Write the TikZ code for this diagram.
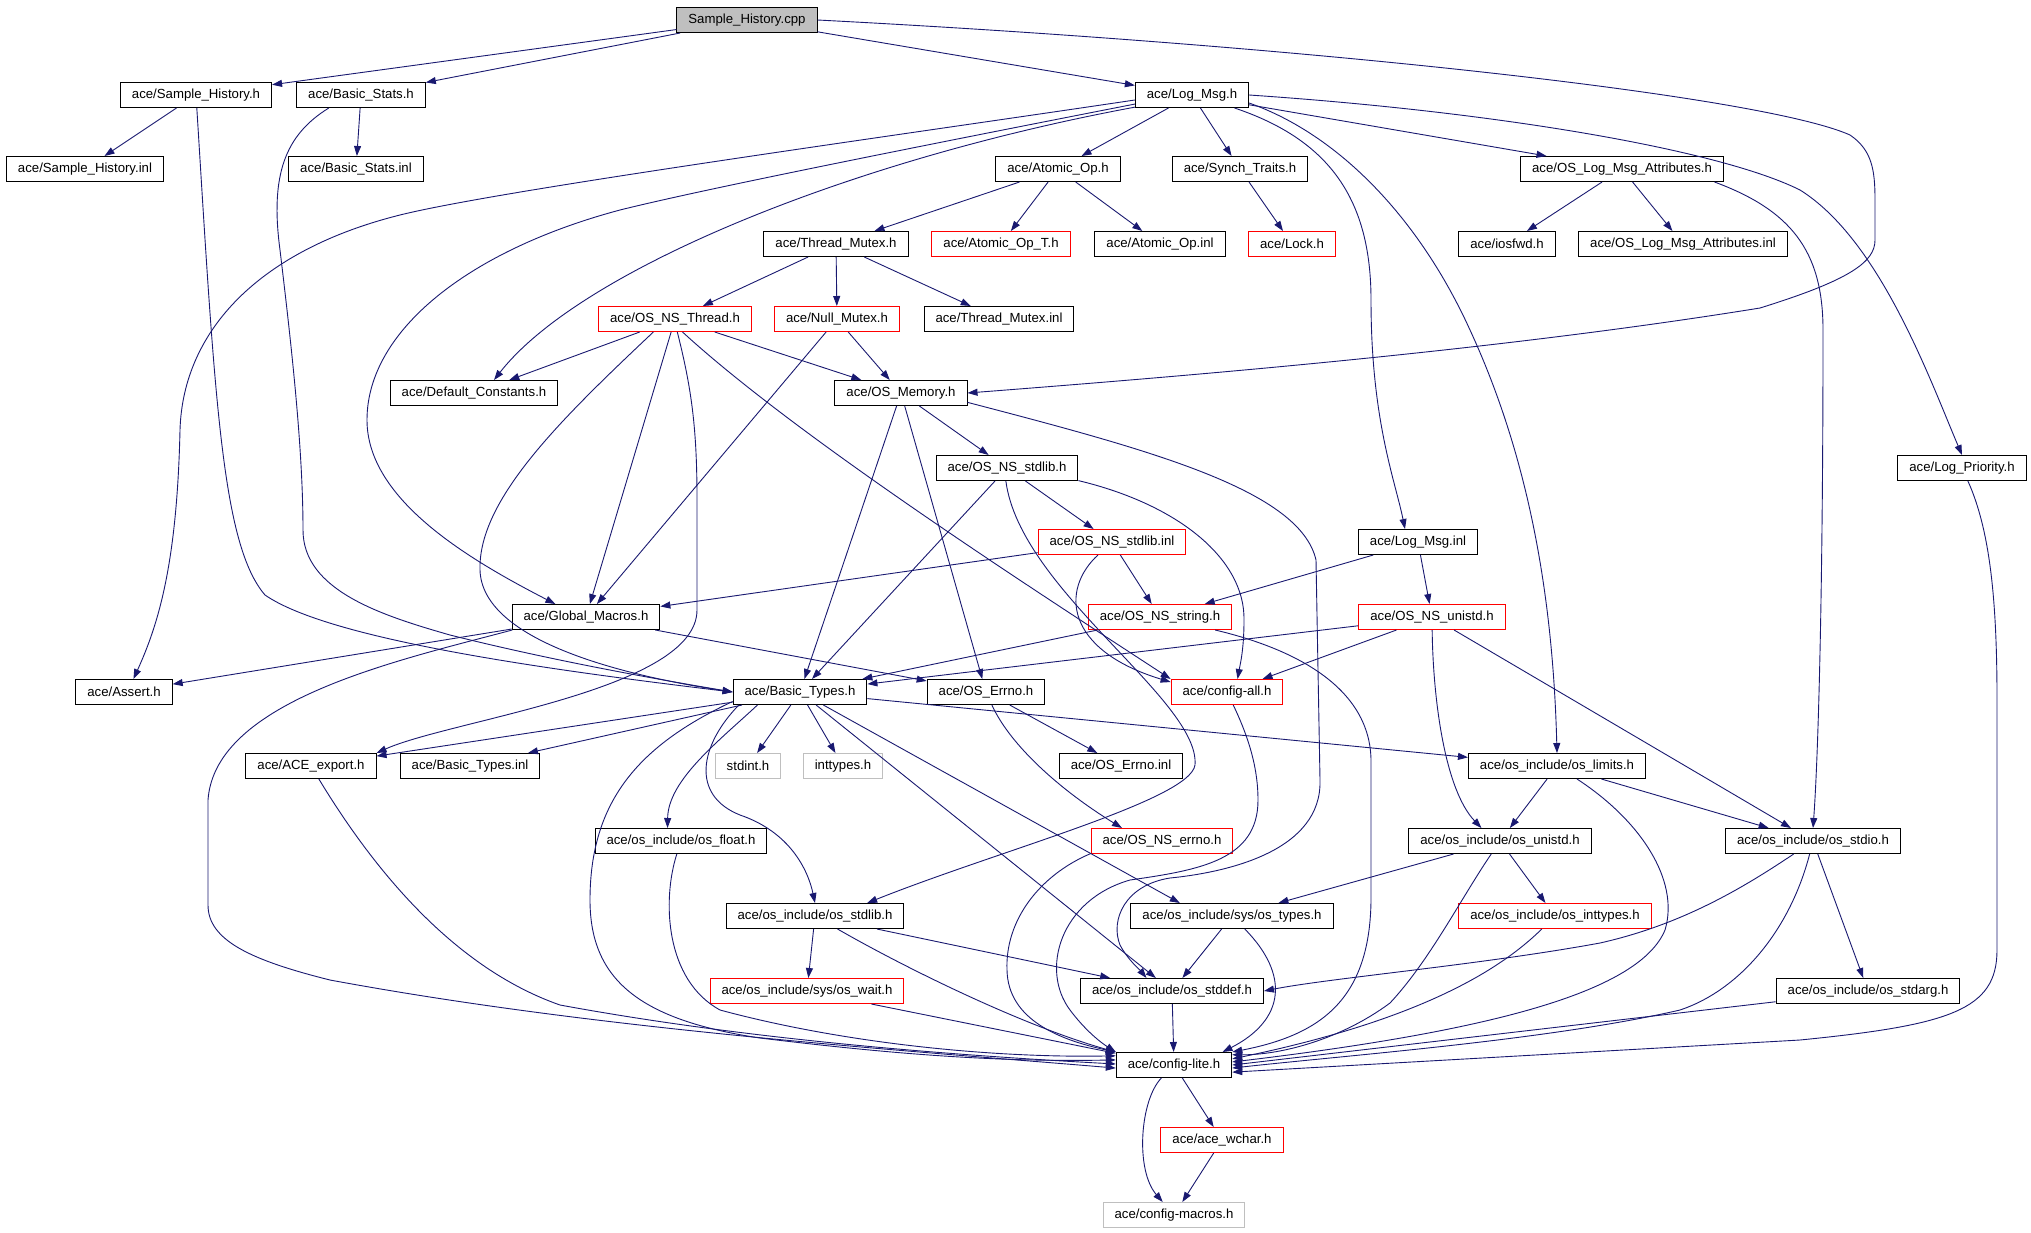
\documentclass[tikz,border=0pt]{standalone}
\usepackage{fontspec}
\setmainfont{Liberation Sans}
\usetikzlibrary{arrows.meta}
\definecolor{edgeblue}{HTML}{191970}
\definecolor{extgray}{HTML}{BFBFBF}

\begin{document}
\begin{tikzpicture}[x=1pt,y=-1pt,
      file node/.style={draw=black,line width=1pt,inner xsep=11.5pt,inner ysep=0pt,
        minimum height=25pt,font=\fontsize{13.2}{15}\selectfont},
      red node/.style={file node,draw=red},
      gray node/.style={file node,draw=extgray},
      root node/.style={file node,fill=extgray},
      dep/.style={draw,color=edgeblue,line width=0.9pt,-{Triangle[length=10pt,width=7pt]}}]

      \useasboundingbox (0,0) rectangle (2031,1232);

      \node[root node] (cpp) at (747,20) {Sample\_History.cpp};
      \node[file node] (shh) at (196,95) {ace/Sample\_History.h};
      \node[file node] (bsh) at (361,95) {ace/Basic\_Stats.h};
      \node[file node] (logmsg) at (1192,95) {ace/Log\_Msg.h};
      \node[file node] (shinl) at (85,169) {ace/Sample\_History.inl};
      \node[file node] (bsinl) at (356,169) {ace/Basic\_Stats.inl};
      \node[file node] (atomic) at (1058,169) {ace/Atomic\_Op.h};
      \node[file node] (synch) at (1240,169) {ace/Synch\_Traits.h};
      \node[file node] (logattr) at (1622,169) {ace/OS\_Log\_Msg\_Attributes.h};
      \node[file node] (tmutex) at (836,244) {ace/Thread\_Mutex.h};
      \node[red node] (atomicT) at (1001,244) {ace/Atomic\_Op\_T.h};
      \node[file node] (atomicinl) at (1160,244) {ace/Atomic\_Op.inl};
      \node[red node] (lock) at (1292,244) {ace/Lock.h};
      \node[file node] (iosfwd) at (1507,244) {ace/iosfwd.h};
      \node[file node] (logattrinl) at (1683,244) {ace/OS\_Log\_Msg\_Attributes.inl};
      \node[red node] (osthread) at (675,319) {ace/OS\_NS\_Thread.h};
      \node[red node] (nullmutex) at (837,319) {ace/Null\_Mutex.h};
      \node[file node] (tmutexinl) at (999,319) {ace/Thread\_Mutex.inl};
      \node[file node] (defconst) at (474,393) {ace/Default\_Constants.h};
      \node[file node] (osmemory) at (901,393) {ace/OS\_Memory.h};
      \node[file node] (nsstdlib) at (1007,468) {ace/OS\_NS\_stdlib.h};
      \node[file node] (logprio) at (1962,468) {ace/Log\_Priority.h};
      \node[red node] (nsstdlibinl) at (1112,542) {ace/OS\_NS\_stdlib.inl};
      \node[file node] (logmsginl) at (1418,542) {ace/Log\_Msg.inl};
      \node[file node] (globmac) at (586,617) {ace/Global\_Macros.h};
      \node[red node] (nsstring) at (1160,617) {ace/OS\_NS\_string.h};
      \node[red node] (nsunistd) at (1432,617) {ace/OS\_NS\_unistd.h};
      \node[file node] (assert) at (124,692) {ace/Assert.h};
      \node[file node] (basictypes) at (800,692) {ace/Basic\_Types.h};
      \node[file node] (oserrno) at (986,692) {ace/OS\_Errno.h};
      \node[red node] (configall) at (1227,692) {ace/config-all.h};
      \node[file node] (aceexport) at (311,766) {ace/ACE\_export.h};
      \node[file node] (basictypesinl) at (470,766) {ace/Basic\_Types.inl};
      \node[gray node] (stdint) at (748,766) {stdint.h};
      \node[gray node] (inttypes) at (843,766) {inttypes.h};
      \node[file node] (oserrnoinl) at (1121,766) {ace/OS\_Errno.inl};
      \node[file node] (oslimits) at (1557,766) {ace/os\_include/os\_limits.h};
      \node[file node] (osfloat) at (681,841) {ace/os\_include/os\_float.h};
      \node[red node] (nserrno) at (1162,841) {ace/OS\_NS\_errno.h};
      \node[file node] (osunistd) at (1500,841) {ace/os\_include/os\_unistd.h};
      \node[file node] (osstdio) at (1813,841) {ace/os\_include/os\_stdio.h};
      \node[file node] (osstdlib) at (815,916) {ace/os\_include/os\_stdlib.h};
      \node[file node] (systypes) at (1232,916) {ace/os\_include/sys/os\_types.h};
      \node[red node] (osinttypes) at (1555,916) {ace/os\_include/os\_inttypes.h};
      \node[red node] (syswait) at (807,991) {ace/os\_include/sys/os\_wait.h};
      \node[file node] (osstddef) at (1172,991) {ace/os\_include/os\_stddef.h};
      \node[file node] (osstdarg) at (1868,991) {ace/os\_include/os\_stdarg.h};
      \node[file node] (configlite) at (1174,1065) {ace/config-lite.h};
      \node[red node] (wchar) at (1222,1140) {ace/ace\_wchar.h};
      \node[gray node] (configmacros) at (1174,1215) {ace/config-macros.h};

      \path[dep]
        (cpp) edge (shh) edge (bsh) edge (logmsg)
        (shh) edge (shinl)
        (bsh) edge (bsinl)
        (logmsg) edge (atomic) edge (synch) edge (logattr)
        (logattr) edge (iosfwd) edge (logattrinl)
        (atomic) edge (tmutex) edge (atomicT) edge (atomicinl)
        (synch) edge (lock)
        (tmutex) edge (osthread) edge (nullmutex) edge (tmutexinl)
        (osthread) edge (defconst) edge (osmemory) edge (globmac)
        (nullmutex) edge (osmemory) edge (globmac)
        (osmemory) edge (nsstdlib) edge (basictypes) edge (oserrno)
        (nsstdlib) edge (nsstdlibinl) edge (basictypes)
        (nsstdlibinl) edge (globmac) edge (nsstring)
        (logmsginl) edge (nsstring) edge (nsunistd)
        (nsstring) edge (basictypes)
        (nsunistd) edge (basictypes) edge (configall) edge (osstdio)
        (globmac) edge (assert) edge (oserrno)
        (basictypes) edge (aceexport) edge (basictypesinl) edge (stdint) edge (inttypes)
          edge (oslimits) edge (osstddef) edge (systypes.166)
        (oserrno) edge (oserrnoinl)
        (oslimits) edge (osunistd) edge (osstdio)
        (osunistd) edge (systypes) edge (osinttypes)
        (osstdio) edge (osstdarg)
        (osstdlib) edge (syswait) edge (osstddef)
        (systypes) edge (osstddef)
        (syswait) edge (configlite)
        (osstddef) edge (configlite)
        (osstdarg) edge (configlite.0)
        (configlite) edge (wchar)
        (wchar) edge (configmacros);

      % long bent connectors
      \draw[dep] (cpp.east) .. controls (1300,45) and (1760,95) .. (1850,135)
        .. controls (1872,150) and (1875,170) .. (1875,200) -- (1875,240)
        .. controls (1875,262) and (1850,280) .. (1760,308)
        .. controls (1500,350) and (1200,375) .. (osmemory.east);
      \draw[dep] (shh) .. controls (215,400) and (222,545) .. (265,595)
        .. controls (330,640) and (550,670) .. (basictypes.west);
      \draw[dep] (bsh.-158) .. controls (285,135) and (270,175) .. (280,250)
        .. controls (292,350) and (303,450) .. (303,530)
        .. controls (303,590) and (380,615) .. (450,635)
        .. controls (550,660) and (650,678) .. (basictypes.west);
      \draw[dep] (logmsg.-175) .. controls (900,135) and (500,190) .. (400,215)
        .. controls (260,250) and (183,330) .. (180,430)
        .. controls (177,565) and (158,625) .. (assert.54);
      \draw[dep] (logmsg.-171) .. controls (900,150) and (700,190) .. (620,210)
        .. controls (470,250) and (367,330) .. (367,420)
        .. controls (367,500) and (470,560) .. (globmac.157);
      \draw[dep] (logmsg.-168) .. controls (850,160) and (580,270) .. (defconst.33);
      \draw[dep] (logmsg.-17) .. controls (1330,140) and (1371,200) .. (1371,300)
        .. controls (1371,420) and (1395,480) .. (logmsginl.135);
      \draw[dep] (logmsg.-8) .. controls (1340,135) and (1420,220) .. (1470,330)
        .. controls (1530,460) and (1553,600) .. (oslimits.north);
      \draw[dep] (logmsg.east) .. controls (1500,112) and (1720,150) .. (1800,190)
        .. controls (1880,240) and (1930,380) .. (logprio.north);
      \draw[dep] (logattr.-8) .. controls (1790,210) and (1823,250) .. (1823,330)
        .. controls (1823,600) and (1818,760) .. (osstdio.north);
      \draw[dep] (logprio) .. controls (1990,530) and (1997,600) .. (1997,700) -- (1997,950)
        .. controls (1997,1010) and (1950,1025) .. (1800,1040) -- (configlite.-7);
      \draw[dep] (osthread.-149) .. controls (560,420) and (478,500) .. (480,570)
        .. controls (482,640) and (620,675) .. (basictypes.west);
      \draw[dep] (osthread.-80) .. controls (692,390) and (697,430) .. (697,500) -- (697,610)
        .. controls (697,690) and (450,720) .. (aceexport.north east);
      \draw[dep] (osthread.-60) .. controls (800,440) and (1050,600) .. (configall.north west);
      \draw[dep] (osmemory.-8) .. controls (1150,450) and (1300,490) .. (1316,560) -- (1320,780)
        .. controls (1322,850) and (1230,872) .. (1170,878)
        .. controls (1125,885) and (1110,920) .. (1120,945)
        .. controls (1128,960) and (1140,970) .. (osstddef.153);
      \draw[dep] (configall) .. controls (1250,740) and (1258,770) .. (1258,800)
        .. controls (1258,860) and (1200,870) .. (1130,880)
        .. controls (1060,900) and (1040,970) .. (1070,1010)
        .. controls (1085,1030) and (1100,1042) .. (configlite.north west);
      \draw[dep] (nsstdlib.-10) .. controls (1180,505) and (1245,560) .. (1244,620)
        .. controls (1244,650) and (1240,665) .. (configall.51);
      \draw[dep] (nsstdlib.-95) .. controls (1020,590) and (1200,700) .. (1195,765)
        .. controls (1190,800) and (1000,850) .. (osstdlib.14);
      \draw[dep] (nsstdlibinl) .. controls (1060,590) and (1065,650) .. (configall.170);
      \draw[dep] (nsstring) .. controls (1300,650) and (1370,690) .. (1371,760) -- (1371,900)
        .. controls (1370,1000) and (1320,1035) .. (configlite.north east);
      \draw[dep] (oserrno) .. controls (1010,745) and (1060,790) .. (nserrno.162);
      \draw[dep] (nsunistd) .. controls (1433,700) and (1445,790) .. (osunistd.145);
      \draw[dep] (globmac.-170) .. controls (400,660) and (215,700) .. (208,800) -- (208,905)
        .. controls (208,940) and (250,960) .. (330,980)
        .. controls (600,1030) and (900,1050) .. (configlite.183);
      \draw[dep] (aceexport) .. controls (380,880) and (460,970) .. (560,1005)
        .. controls (750,1040) and (950,1055) .. (configlite.179);
      \draw[dep] (osfloat) .. controls (662,900) and (665,980) .. (720,1010)
        .. controls (850,1045) and (1000,1058) .. (configlite.171);
      \draw[dep] (basictypes.-172) .. controls (640,745) and (590,800) .. (590,900)
        .. controls (590,980) and (640,1020) .. (760,1038)
        .. controls (900,1055) and (1000,1062) .. (configlite.175);
      \draw[dep] (basictypes.-163) .. controls (720,740) and (668,780) .. (osfloat.136);
      \draw[dep] (basictypes.-168) .. controls (700,745) and (690,795) .. (740,815)
        .. controls (790,832) and (808,870) .. (osstdlib.north);
      \draw[dep] (nserrno.-170) .. controls (1040,875) and (1005,920) .. (1007,970)
        .. controls (1008,1020) and (1060,1040) .. (configlite.north west);
      \draw[dep] (oslimits) .. controls (1640,820) and (1680,880) .. (1665,930)
        .. controls (1640,990) and (1500,1030) .. (configlite.3);
      \draw[dep] (osunistd) .. controls (1460,900) and (1430,960) .. (1390,1003)
        .. controls (1340,1040) and (1280,1055) .. (configlite.10);
      \draw[dep] (osinttypes) .. controls (1500,970) and (1420,1020) .. (configlite.6);
      \draw[dep] (osstdio) .. controls (1790,930) and (1740,990) .. (1680,1010)
        .. controls (1550,1040) and (1350,1055) .. (configlite.-3);
      \draw[dep] (osstdio) .. controls (1740,890) and (1680,925) .. (1600,943)
        .. controls (1480,965) and (1330,978) .. (osstddef.east);
      \draw[dep] (systypes) .. controls (1290,975) and (1285,1020) .. (configlite.15);
      \draw[dep] (osstdlib) .. controls (900,965) and (1020,1025) .. (configlite.north west);
      \draw[dep] (configlite) .. controls (1140,1100) and (1135,1170) .. (configmacros);
    \end{tikzpicture}
\end{document}
